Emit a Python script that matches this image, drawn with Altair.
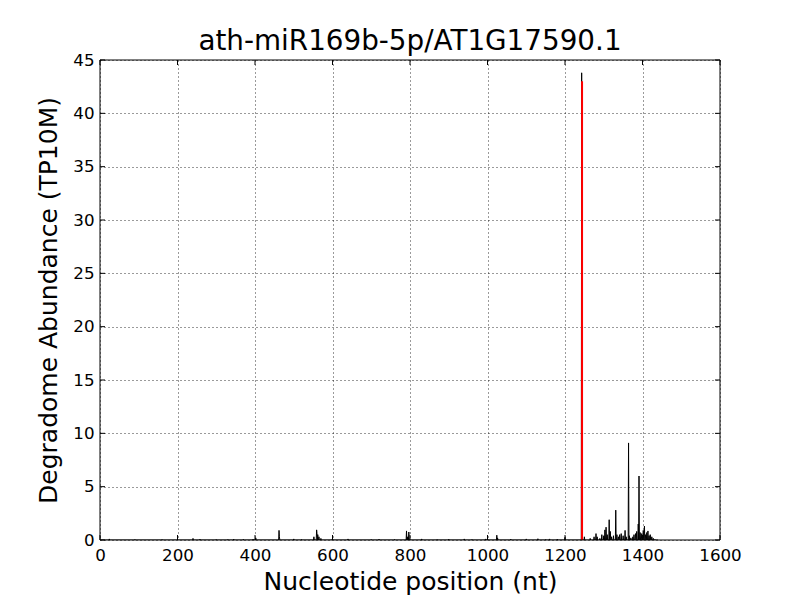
import altair as alt
import pandas as pd

title_text = "ath-miR169b-5p/AT1G17590.1"
x_title = "Nucleotide position (nt)"
y_title = "Degradome Abundance (TP10M)"

transcript_len = 1440
peak_pos = [24, 90, 160, 240, 258, 300, 330, 345, 370, 395, 402, 462, 463, 500, 520,
            552, 559, 560, 562, 565, 570, 600, 640, 700, 720, 760, 791, 793, 797, 830,
            870, 900, 940, 960, 995, 1000, 1024, 1026, 1060, 1100, 1130, 1150, 1160,
            1180, 1200, 1243, 1250, 1265, 1275, 1280, 1283, 1290, 1295, 1300, 1303,
            1306, 1309, 1314, 1317, 1320, 1325, 1331, 1334, 1338, 1341, 1345, 1350,
            1355, 1358, 1364, 1366, 1370, 1375, 1378, 1382, 1385, 1389, 1391, 1394,
            1398, 1402, 1405, 1408, 1411, 1414, 1417, 1420, 1424, 1428, 1432]
peak_val = [0.1, 0.05, 0.05, 0.15, 0.08, 0.05, 0.05, 0.08, 0.06, 0.08, 0.2, 0.9, 0.3, 0.1, 0.05,
            0.3, 0.95, 0.6, 0.5, 0.3, 0.15, 0.15, 0.1, 0.05, 0.08, 0.05, 0.85, 0.3, 0.75, 0.1,
            0.05, 0.08, 0.1, 0.05, 0.1, 0.15, 0.45, 0.2, 0.08, 0.1, 0.12, 0.05, 0.1,
            0.08, 0.25, 43.8, 0.3, 0.15, 0.3, 0.6, 0.3, 0.15, 0.5, 0.4, 0.95,
            1.2, 0.5, 1.9, 0.8, 0.3, 0.4, 2.8, 0.5, 0.3, 0.5, 0.6, 0.4,
            0.9, 0.3, 9.1, 0.4, 0.2, 0.3, 0.5, 0.6, 0.8, 1.5, 6.0, 0.7,
            0.6, 0.9, 1.3, 0.5, 0.7, 0.85, 0.4, 0.5, 0.3, 0.15, 0.05]

cleavage_pos = [1244]
cleavage_val = [43.0]

x_ticks = [0, 200, 400, 600, 800, 1000, 1200, 1400, 1600]
y_ticks = [0, 5, 10, 15, 20, 25, 30, 35, 40, 45]

lookup = dict(zip(peak_pos, peak_val))
positions = list(range(1, transcript_len + 1))
df = pd.DataFrame({"pos": positions, "val": [lookup.get(p, 0.0) for p in positions]})
red_df = pd.DataFrame({"pos": cleavage_pos, "base": [0.0] * len(cleavage_pos), "val": cleavage_val})
xt_df = pd.DataFrame({"pos": x_ticks})
yt_df = pd.DataFrame({"val": y_ticks})
frame_df = pd.DataFrame({"k": [0]})

W, H = 620, 480
xs = alt.Scale(domain=[0, 1600], nice=False, zero=False)
ys = alt.Scale(domain=[0, 45], nice=False, zero=False)
x_axis = alt.Axis(values=x_ticks, format="d", labelPadding=7, titlePadding=6, labelFlush=False)
y_axis = alt.Axis(values=y_ticks, format="d", labelPadding=6, titlePadding=11, labelFlush=False)

def X(field):
    return alt.X(field, scale=xs, title=x_title, axis=x_axis)

def Y(field):
    return alt.Y(field, scale=ys, title=y_title, axis=y_axis)

line = alt.Chart(df).mark_line(color="black", strokeWidth=1, clip=True).encode(
    x=X("pos:Q"), y=Y("val:Q"))

red = alt.Chart(red_df).mark_rule(color="red", strokeWidth=2).encode(
    x=X("pos:Q"), y=Y("base:Q"), y2="val:Q")

tick_len = 5
xt_bottom = alt.Chart(xt_df).mark_rule(color="black", strokeWidth=1).encode(
    x=X("pos:Q"), y=alt.value(H), y2=alt.value(H - tick_len))
xt_top = alt.Chart(xt_df).mark_rule(color="black", strokeWidth=1).encode(
    x=X("pos:Q"), y=alt.value(0), y2=alt.value(tick_len))
yt_left = alt.Chart(yt_df).mark_rule(color="black", strokeWidth=1).encode(
    y=Y("val:Q"), x=alt.value(0), x2=alt.value(tick_len))
yt_right = alt.Chart(yt_df).mark_rule(color="black", strokeWidth=1).encode(
    y=Y("val:Q"), x=alt.value(W), x2=alt.value(W - tick_len))
frame = alt.Chart(frame_df).mark_rect(fill=None, stroke="black", strokeWidth=1).encode(
    x=alt.value(0), x2=alt.value(W), y=alt.value(0), y2=alt.value(H))

chart = alt.layer(line, red, xt_bottom, xt_top, yt_left, yt_right, frame).properties(
    width=W, height=H, background="white",
    title=alt.TitleParams(title_text, font="DejaVu Sans", fontSize=27.8, fontWeight="normal",
                          color="black", anchor="middle", offset=-4),
    autosize=alt.AutoSizeParams(type="none"),
    padding={"left": 92, "top": 52, "right": 72, "bottom": 60},
).configure_view(stroke=None).configure_axis(
    labelFont="DejaVu Sans", labelFontSize=16.7, labelColor="black",
    titleFont="DejaVu Sans", titleFontSize=25, titleFontWeight="normal", titleColor="black",
    tickSize=0, domain=False, grid=True, gridColor="black", gridDash=[1, 3], gridWidth=0.8,
    gridOpacity=1,
)

chart.save("out.html", embed_options={"renderer": "svg", "actions": False})
